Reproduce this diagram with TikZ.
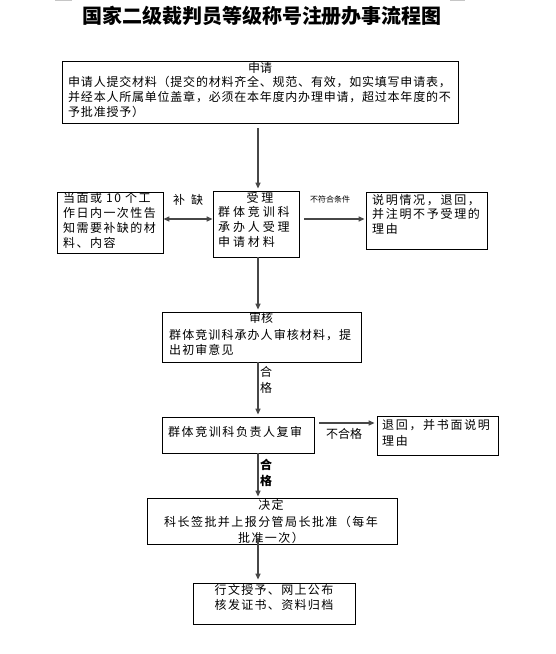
\documentclass[tikz,border=0pt]{standalone}
\usepackage{fontspec}
\newfontfamily\cjk{Noto Sans CJK SC}
\usetikzlibrary{arrows.meta,calc}
\newcommand\lsp[1]{\addfontfeature{LetterSpace=#1}}
\tikzset{
  box/.style={draw, line width=0.8pt, inner sep=0pt},
  arr/.style={draw=black!72, line width=1.3pt, -{Triangle[length=6pt,width=5pt]}},
  darr/.style={draw=black!72, line width=1.3pt, {Triangle[length=6pt,width=5pt]}-{Triangle[length=6pt,width=5pt]}},
  txt/.style={inner sep=0pt, font=\cjk\fontsize{12}{15}\selectfont},
}
\begin{document}
\begin{tikzpicture}[x=1pt,y=-1pt]
\fill[white] (0,0) rectangle (556,654);
\useasboundingbox (0,0) rectangle (556,654);
\draw[gray!45, line width=1pt] (55,0.5) -- (72,0.5);
\draw[gray!45, line width=1pt] (450,0.5) -- (465,0.5);

% title
\node[inner sep=0pt, font=\cjk\fontsize{20}{24}\selectfont\bfseries] (title) at (262,16) {国家二级裁判员等级称号注册办事流程图};

% boxes
\node[box, minimum width=396pt, minimum height=62pt] (apply) at (260,92) {};
\node[box, minimum width=86pt, minimum height=66pt] (accept) at (256,224) {};
\node[box, minimum width=106pt, minimum height=61pt] (inform) at (110,222.5) {};
\node[box, minimum width=121pt, minimum height=57pt] (reject1) at (426.5,220.5) {};
\node[box, minimum width=199pt, minimum height=50pt] (review) at (261.5,337) {};
\node[box, minimum width=152pt, minimum height=36pt] (recheck) at (238,435) {};
\node[box, minimum width=121pt, minimum height=39pt] (reject2) at (437.5,435.5) {};
\node[box, minimum width=250pt, minimum height=46pt] (decide) at (272,521) {};
\node[box, minimum width=162pt, minimum height=41pt] (final) at (274,603.5) {};

% texts
\node[txt] (applyh) at (260,68) {申请};
\node[txt, anchor=north west, align=left, font=\cjk\fontsize{12}{15}\selectfont\lsp{6.5}] (applyb) at (68,76)
  {申请人提交材料（提交的材料齐全、规范、有效，如实填写申请表，\\并经本人所属单位盖章，必须在本年度内办理申请，超过本年度的不\\予批准授予）};
\node[txt, anchor=north west, align=left, font=\cjk\fontsize{12}{15}\selectfont\lsp{12}] (informt) at (63,192)
  {当面或 10 个工\\作日内一次性告\\知需要补缺的材\\料、内容};
\node[txt, font=\cjk\fontsize{12}{15}\selectfont\lsp{24}] (accepth) at (260,198) {受理};
\node[txt, anchor=north west, align=left, font=\cjk\fontsize{12}{15}\selectfont\lsp{24}] (acceptb) at (218,206)
  {群体竞训科\\承办人受理\\申请材料};
\node[txt, anchor=north west, align=left, font=\cjk\fontsize{12}{14.5}\selectfont\lsp{14}] (reject1t) at (372,194)
  {说明情况，退回，\\并注明不予受理的\\理由};
\node[txt] (reviewh) at (261,318) {审核};
\node[txt, anchor=north west, align=left, font=\cjk\fontsize{12}{15}\selectfont\lsp{9}] (reviewb) at (169,329)
  {群体竞训科承办人审核材料，提\\出初审意见};
\node[txt, anchor=west, font=\cjk\fontsize{12}{15}\selectfont\lsp{13}] (recheckt) at (168,432) {群体竞训科负责人复审};
\node[txt, anchor=north west, align=left, font=\cjk\fontsize{12}{16}\selectfont\lsp{14}] (reject2t) at (382,419)
  {退回，并书面说明\\理由};
\node[txt, align=center, font=\cjk\fontsize{12}{16.5}\selectfont\lsp{12}] (decidet) at (271,521.5)
  {决定\\科长签批并上报分管局长批准（每年\\批准一次）};
\node[txt, align=center, font=\cjk\fontsize{12}{15}\selectfont\lsp{11}] (finalt) at (274,597.5)
  {行文授予、网上公布\\核发证书、资料归档};

% connectors
\coordinate (vx) at (258,0);
\coordinate (h1) at (0,219);
\coordinate (h2) at (0,423);
\draw[arr] ($(apply.south -| vx)+(0,5)$) -- ($(accept.north -| vx)+(0,-2)$);
\draw[arr] (accept.south -| vx) -- ($(review.north -| vx)+(0,-2)$);
\draw[arr] (review.south -| vx) -- ($(recheck.north -| vx)+(0,-2)$);
\draw[arr] (recheck.south -| vx) -- ($(decide.north -| vx)+(0,-1)$);
\draw[arr] ($(decide.south -| vx)+(0,-6)$) -- ($(final.north -| vx)+(0,-3)$);
\draw[darr] (inform.east |- h1) -- (accept.west |- h1);
\draw[arr] ($(accept.east |- h1)+(5,0)$) -- ($(reject1.west |- h1)+(-1,0)$);
\draw[arr] ($(recheck.east |- h2)+(5,0)$) -- ($(reject2.west |- h2)+(-2,0)$);

% connector labels
\node[txt] (lb1) at (188,200) {补\hspace{6pt}缺};
\node[inner sep=0pt, font=\cjk\fontsize{8}{9}\selectfont] (lb2) at (330,199) {不符合条件};
\node[txt] (lb3) at (344,434) {不合格};
\node[txt, align=center, font=\cjk\fontsize{12}{16}\selectfont] (lb4) at (266,380) {合\\格};
\node[txt, align=center, font=\cjk\fontsize{12}{16}\selectfont\bfseries] (lb5) at (266,473) {合\\格};
\end{tikzpicture}
\end{document}
